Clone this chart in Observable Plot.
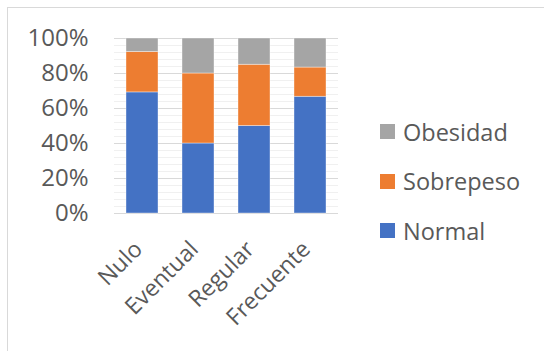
<!DOCTYPE html>
<html>
<head>
<meta charset="utf-8">
<script src="https://cdn.jsdelivr.net/npm/d3@7"></script>
<script src="https://cdn.jsdelivr.net/npm/@observablehq/plot@0.6"></script>
<style>
  html, body { margin: 0; padding: 0; background: #fff; }
  #wrap { position: relative; width: 544px; height: 351px; overflow: hidden; font-family: "Open Sans", sans-serif; }
  #frame { position: absolute; left: 7px; top: 7px; right: -4px; bottom: -4px; border-top: 1.5px solid #d9d9d9; border-left: 1.5px solid #d9d9d9; }
  #chart { position: absolute; left: 0; top: 0; }
  #legend { position: absolute; left: 380px; top: 107px; }
  .item { display: flex; align-items: center; height: 49.5px; font-size: 23.5px; color: #595959; }
  .sw { width: 15px; height: 15px; margin-right: 8px; }
</style>
</head>
<body>
<div id="wrap">
  <div id="frame"></div>
  <div id="chart"></div>
  <div id="legend"></div>
</div>
<script>
// Frecuencia de actividad física y estado nutricional (porcentaje por grupo)
const categories = ["Nulo", "Eventual", "Regular", "Frecuente"];
const series = ["Normal", "Sobrepeso", "Obesidad"];
const colors = ["#4472C4", "#ED7D31", "#A5A5A5"];
const normal    = [69.2, 40, 50, 66.7];
const sobrepeso = [23.1, 40, 35, 16.7];
const obesidad  = [7.7, 20, 15, 16.6];
const yTicks = [0, 20, 40, 60, 80, 100];
const yMinorTicks = d3.range(0, 101, 4);

const values = [normal, sobrepeso, obesidad];
const rows = [];
series.forEach((s, i) => categories.forEach((c, j) => rows.push({categoria: c, serie: s, valor: values[i][j]})));

const chart = Plot.plot({
  width: 544,
  height: 351,
  marginTop: 38,
  marginBottom: 138,
  marginLeft: 114,
  marginRight: 206,
  style: {fontFamily: "'Open Sans', sans-serif", fontSize: "23px", color: "#595959", background: "transparent"},
  x: {domain: categories, paddingInner: 0.43, paddingOuter: 0.2, label: null},
  y: {domain: [0, 100], label: null},
  color: {domain: series, range: colors},
  marks: [
    Plot.ruleY(yMinorTicks, {stroke: "#f0f0f0", strokeWidth: 1}),
    Plot.ruleY(yTicks, {stroke: "#d9d9d9", strokeWidth: 1}),
    Plot.barY(rows, {
      x: "categoria", y: "valor", fill: "serie",
      order: series, stroke: "#ffffff", strokeOpacity: 0.5, strokeWidth: 0.75
    }),
    Plot.axisY({ticks: yTicks, tickSize: 0, tickPadding: 26, tickFormat: d => d + "%", fontSize: 24}),
    Plot.axisX({tickSize: 0, tickRotate: -45, tickPadding: 32, dx: -4, fontSize: 23})
  ]
});
document.getElementById("chart").append(chart);

// Leyenda: de arriba abajo en el mismo orden que la pila
const legend = document.getElementById("legend");
[...series].reverse().forEach(s => {
  const item = document.createElement("div");
  item.className = "item";
  const sw = document.createElement("span");
  sw.className = "sw";
  sw.style.background = colors[series.indexOf(s)];
  const label = document.createElement("span");
  label.textContent = s;
  item.append(sw, label);
  legend.append(item);
});
</script>
</body>
</html>
